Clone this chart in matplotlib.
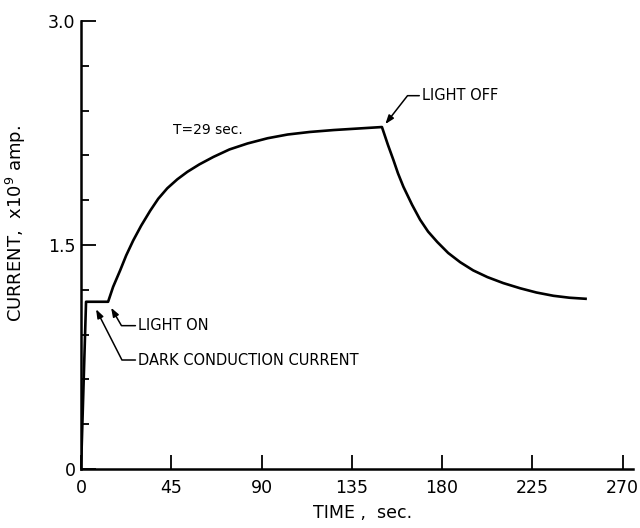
import matplotlib
matplotlib.use("Agg")
import matplotlib.pyplot as plt
from matplotlib.ticker import MultipleLocator

# values (time in sec, current in 1e-9 amp)
time_s = [0, 2.5, 13.5, 16, 19.5, 22.5, 26, 30, 34.5, 38.5, 43, 48, 53, 59, 66, 74,
          83, 93, 103, 114, 126, 138, 150,
          153, 155.7, 158, 160.7, 165, 169, 173, 177.6, 183, 189, 195.5, 202.6,
          210.5, 219, 227, 235.5, 243.5, 251.5]
current = [0, 1.12, 1.12, 1.22, 1.33, 1.43, 1.53, 1.63, 1.73, 1.81, 1.88, 1.94, 1.99,
           2.04, 2.09, 2.14, 2.18, 2.215, 2.24, 2.257, 2.27, 2.28, 2.29,
           2.17, 2.07, 1.98, 1.89, 1.77, 1.67, 1.59, 1.52, 1.447, 1.385, 1.33, 1.285,
           1.245, 1.21, 1.182, 1.16, 1.147, 1.14]

x_ticks = [0, 45, 90, 135, 180, 225, 270]
y_major = [0, 1.5, 3.0]
y_labels = ["0", "1.5", "3.0"]

plt.rcParams['font.family'] = ['DejaVu Sans']

fig = plt.figure(figsize=(6.4, 5.28), dpi=100)
ax = fig.add_axes([0.1266, 0.1117, 0.862, 0.8485])

ax.plot(time_s, current, color='black', lw=1.9, solid_joinstyle='round')

ax.set_xlim(0, 275)
ax.set_ylim(0, 3.0)
ax.set_xticks(x_ticks)
ax.set_yticks(y_major)
ax.set_yticklabels(y_labels)
ax.yaxis.set_minor_locator(MultipleLocator(0.3))

ax.spines['top'].set_visible(False)
ax.spines['right'].set_visible(False)
for s in ['left', 'bottom']:
    ax.spines[s].set_linewidth(1.8)

ax.tick_params(axis='x', direction='in', length=10, width=1.3, pad=7, labelsize=12.5)
ax.tick_params(axis='y', which='major', direction='in', length=11, width=1.3, pad=4, labelsize=12.5)
ax.tick_params(axis='y', which='minor', direction='in', length=6, width=1.3)

ax.set_xlabel("TIME ,  sec.", fontsize=12.5)
ax.xaxis.set_label_coords(0.51, -0.078)
ax.set_ylabel("CURRENT,  x10$^9$ amp.", fontsize=13)
ax.yaxis.set_label_coords(-0.096, 0.549)

arrow = dict(arrowstyle='-|>,head_length=0.5,head_width=0.18', color='black',
             lw=1.1, relpos=(0, 0.5), shrinkA=0, shrinkB=0)

ax.annotate("LIGHT ON", xy=(15, 1.08), xytext=(28.5, 0.96), fontsize=10.5,
            ha='left', va='center',
            arrowprops=dict(arrow, connectionstyle="angle,angleA=180,angleB=120,rad=0"))
ax.annotate("DARK CONDUCTION CURRENT", xy=(7.5, 1.07), xytext=(28.5, 0.73), fontsize=10.5,
            ha='left', va='center',
            arrowprops=dict(arrow, connectionstyle="angle,angleA=180,angleB=117,rad=0"))
ax.annotate("LIGHT OFF", xy=(151.7, 2.31), xytext=(170, 2.50), fontsize=10.5,
            ha='left', va='center',
            arrowprops=dict(arrow, connectionstyle="angle,angleA=180,angleB=52,rad=0"))
ax.text(46, 2.27, "T=29 sec.", fontsize=10, ha='left', va='center')

fig.savefig("out.png", dpi=100)
